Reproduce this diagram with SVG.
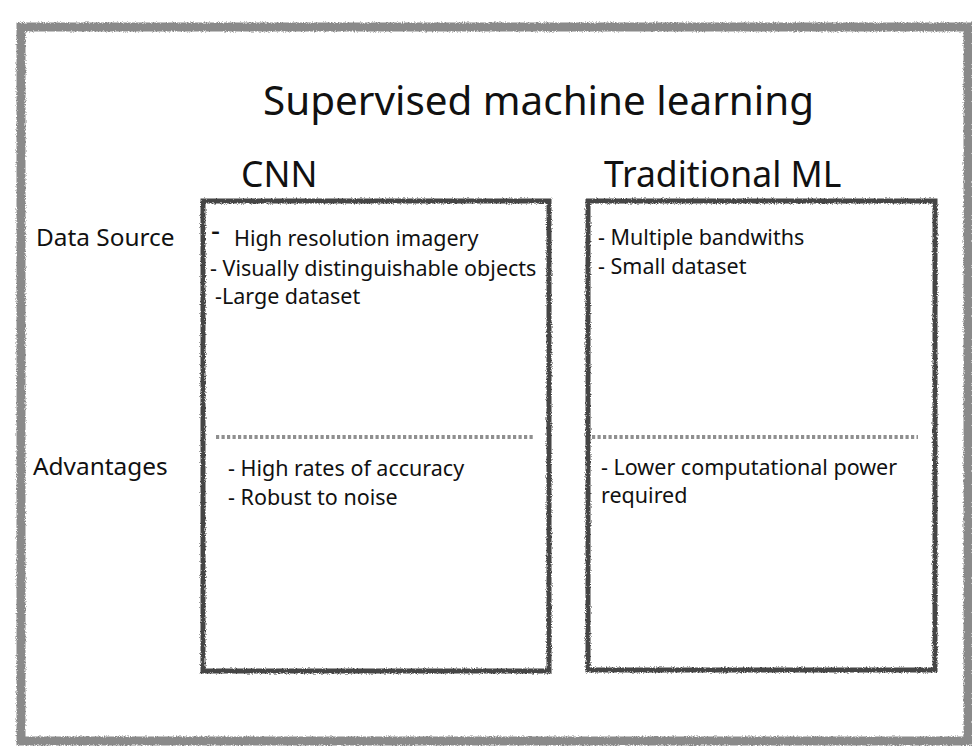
<svg xmlns="http://www.w3.org/2000/svg" width="972" height="746" viewBox="0 0 972 746">
<defs>
<filter id="pencil" x="-5%" y="-5%" width="110%" height="110%">
<feTurbulence type="fractalNoise" baseFrequency="0.9" numOctaves="2" seed="3" result="n"/>
<feDisplacementMap in="SourceGraphic" in2="n" scale="3.5" xChannelSelector="R" yChannelSelector="G"/>
</filter>
<style>
.outer{fill:none;stroke:#8a8a8a;stroke-width:9;stroke-linecap:square;filter:url(#pencil)}
.box{fill:none;stroke:#444;stroke-width:5;filter:url(#pencil)}
.dots{stroke:#8f8f8f;stroke-width:4;stroke-dasharray:3.2 2.3}
text{font-family:"Noto Sans","Open Sans","DejaVu Sans",sans-serif;fill:#111}
.title{font-size:40.4px}
.head{font-size:35.5px}
.label{font-size:24.4px}
.item{font-size:21.5px}
</style>
</defs>
<rect width="972" height="746" fill="#fff"/>
<g id="frame"><path class="outer" d="M21 27 H968 V741 H21 Z"/></g>
<g id="title"><text class="title" x="263" y="115">Supervised machine learning</text></g>
<g id="row-labels">
<text class="label" x="36" y="246">Data Source</text>
<text class="label" x="33" y="475">Advantages</text>
</g>
<g id="cnn">
<text class="head" x="241" y="187">CNN</text>
<rect class="box" x="203" y="201" width="346" height="470"/>
<text class="item" x="0" y="0" transform="translate(211 241) scale(1.3 1.4)">-</text>
<text class="item" x="234" y="246">High resolution imagery</text>
<text class="item" x="210" y="276">- Visually distinguishable objects</text>
<text class="item" x="215" y="304">-Large dataset</text>
<text class="item" x="228" y="476">- High rates of accuracy</text>
<text class="item" x="228" y="505">- Robust to noise</text>
</g>
<g id="traditional-ml">
<text class="head" x="604" y="187">Traditional ML</text>
<rect class="box" x="588" y="201" width="347" height="469"/>
<text class="item" x="598" y="245">- Multiple bandwiths</text>
<text class="item" x="598" y="274">- Small dataset</text>
<text class="item" x="601" y="475">- Lower computational power</text>
<text class="item" x="601" y="503">required</text>
</g>
<g id="connectors">
<line class="dots" x1="216" y1="437" x2="533" y2="437"/>
<line class="dots" x1="592" y1="437" x2="918" y2="437"/>
</g>
</svg>
